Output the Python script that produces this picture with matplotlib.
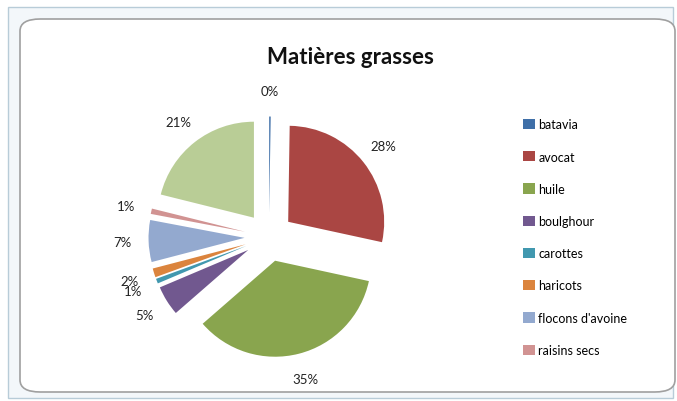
#Recreate the Excel pie chart "Matières grasses"
import numpy as np
import matplotlib.pyplot as plt
from matplotlib.patches import FancyBboxPatch, Rectangle

#data
aliments = ['batavia', 'avocat', 'huile', 'boulghour', 'carottes',
            'haricots', "flocons d'avoine", 'raisins secs', 'autres']
parts = [0.25, 28, 35, 5, 0.8, 1.5, 7, 0.9, 21]
couleurs = ['#3F6FA8', '#AA4643', '#89A54E', '#71588F', '#4198AF',
            '#DB843D', '#93A9CF', '#D19392', '#B9CD96']
nb_legende = 8  # the last entry is cut off in the original legend

W, H = 677, 402
fig = plt.figure(figsize=(W / 100, H / 100), dpi=100)
fig.patch.set_facecolor('white')

#excel sheet frame and the rounded chart area (behind the axes)
fig.patches.append(Rectangle((8 / W, 3 / H), 665 / W, 391 / H, transform=fig.transFigure,
                             facecolor='#F3F7FA', edgecolor='#B8CCD8', lw=1, zorder=-3))
fig.patches.append(FancyBboxPatch((20 / W, 9 / H), 655 / W, 373 / H,
                                  boxstyle='round,pad=0,rounding_size=0.03',
                                  transform=fig.transFigure, facecolor='white',
                                  edgecolor='#A0A0A0', lw=1.2, zorder=-2))

#pie axes: centre at (269, 238) px, radius about 96 px
R = 96
size = 300
cx, cy = 269, H - 238
ax = fig.add_axes([(cx - size / 2) / W, (cy - size / 2) / H, size / W, size / H])
ax.patch.set_alpha(0)

wedges, texts, autotexts = ax.pie(parts, colors=couleurs, startangle=90, counterclock=False,
                                  explode=[0.255] * len(parts), autopct='%1.0f%%',
                                  pctdistance=1.27, wedgeprops=dict(lw=0),
                                  textprops=dict(fontsize=9.5, family='Lato', color='#222222'),
                                  frame=False)
ax.set_xlim(-size / 2 / R, size / 2 / R)
ax.set_ylim(-size / 2 / R, size / 2 / R)
ax.set_aspect('equal')
ax.axis('off')

fig.text(350 / W, 1 - 57 / H, 'Matières grasses', ha='center', va='center',
         fontsize=16, fontweight='bold', family='Lato', color='#111111')

leg = fig.legend(wedges[:nb_legende], aliments[:nb_legende], loc='upper left',
                 bbox_to_anchor=(512 / W, 1 - 108 / H), frameon=False,
                 prop=dict(family='Lato', size=9), handlelength=0.9, handleheight=0.9,
                 handletextpad=0.3, labelspacing=1.62)

fig.savefig('out.png', dpi=100)
